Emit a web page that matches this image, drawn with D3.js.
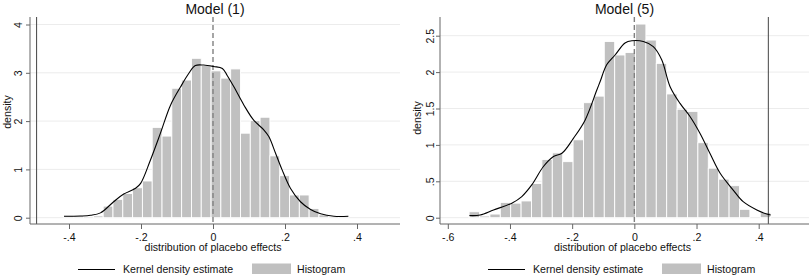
<!DOCTYPE html>
<html>
<head>
<meta charset="utf-8">
<script src="https://cdn.jsdelivr.net/npm/d3@7"></script>
<style>
  body { margin: 0; background: #fff; }
  text { font-family: "Liberation Sans", Arial, sans-serif; fill: #111; }
</style>
</head>
<body>
<div id="chart"></div>
<script>
// ---- Model (1) ----
var binStart1 = -0.414, binWidth1 = 0.02724;
var density1 = [0.037, 0.037, 0, 0.037, 0.24, 0.38, 0.50, 0.62, 0.76, 1.87, 1.69, 2.68, 2.85, 3.30, 3.15,
                3.04, 2.89, 3.08, 1.75, 2.01, 2.08, 1.28, 0.87, 0.47, 0.47, 0.19, 0.06, 0, 0.037];
var kdeX1 = [-0.414, -0.368, -0.340, -0.3125, -0.276, -0.248, -0.215, -0.201, -0.174, -0.146, -0.118, -0.090,
             -0.067, -0.049, -0.026, 0.002, 0.026, 0.039, 0.058, 0.086, 0.113, 0.141, 0.155, 0.174, 0.192,
             0.215, 0.243, 0.271, 0.299, 0.336, 0.376];
var kdeY1 = [0.03, 0.035, 0.05, 0.10, 0.33, 0.49, 0.61, 0.71, 1.19, 1.75, 2.33, 2.71,
             2.99, 3.15, 3.16, 3.13, 3.09, 2.95, 2.71, 2.33, 2.02, 1.82, 1.68, 1.33, 0.99,
             0.61, 0.33, 0.17, 0.08, 0.03, 0.03];
var estimate1 = -0.49;
var xTicks1 = [-0.4, -0.2, 0, 0.2, 0.4];
var yTicks1 = [0, 1, 2, 3, 4];

// ---- Model (5) ----
var binStart5 = -0.5315, binWidth5 = 0.03345;
var density5 = [0.082, 0.023, 0.05, 0.21, 0.20, 0.23, 0.47, 0.80, 0.89, 0.77, 1.07, 1.58, 1.67, 2.42, 2.235,
                2.27, 2.66, 2.44, 2.12, 1.70, 1.49, 1.46, 1.03, 0.68, 0.53, 0.44, 0.115, 0, 0.069];
var kdeX5 = [-0.5305, -0.496, -0.453, -0.394, -0.362, -0.330, -0.293, -0.260, -0.233, -0.196, -0.1585, -0.121,
             -0.110, -0.089, -0.062, -0.030, -0.008, 0.029, 0.061, 0.088, 0.115, 0.147, 0.179, 0.211,
             0.243, 0.276, 0.318, 0.350, 0.394, 0.426, 0.4386];
var kdeY5 = [0.03, 0.037, 0.106, 0.20, 0.29, 0.45, 0.70, 0.84, 0.885, 1.09, 1.34, 1.75,
             1.87, 2.10, 2.235, 2.40, 2.43, 2.42, 2.35, 2.17, 1.80, 1.57, 1.39, 1.16,
             0.885, 0.61, 0.38, 0.22, 0.106, 0.05, 0.037];
var estimate5 = 0.431;
var xTicks5 = [-0.6, -0.4, -0.2, 0, 0.2, 0.4];
var yTicks5 = [0, 0.5, 1, 1.5, 2, 2.5];

var width = 809, height = 278;
var svg = d3.select("#chart").append("svg")
  .attr("width", width)
  .attr("height", height);

// stata style numbers: .2, -.4, 2.5
function fmt(d) {
  if (d === 0) return "0";
  return String(+d.toFixed(2)).replace(/^(-?)0\./, "$1.");
}

function panel(o) {
  var x = d3.scaleLinear().domain(o.xDomain).range(o.xRange);
  var y = d3.scaleLinear().domain(o.yDomain).range(o.yRange);
  var g = svg.append("g");

  // gridlines
  g.selectAll(".grid").data(o.yTicks).enter().append("line")
    .attr("x1", o.left).attr("x2", o.right)
    .attr("y1", d => y(d)).attr("y2", d => y(d))
    .attr("stroke", "#ececec").attr("stroke-width", 1);

  // histogram
  g.selectAll(".bar").data(o.density).enter().append("rect")
    .attr("x", (d, i) => x(o.binStart + i * o.binWidth))
    .attr("width", (d, i) => x(o.binStart + (i + 1) * o.binWidth) - x(o.binStart + i * o.binWidth))
    .attr("y", d => y(d))
    .attr("height", d => y(0) - y(d))
    .attr("fill", "#c0c0c0")
    .attr("stroke", "#fff")
    .attr("stroke-width", 0.9);

  // dashed line at zero
  g.append("line")
    .attr("x1", x(0)).attr("x2", x(0))
    .attr("y1", o.top).attr("y2", o.bottom)
    .attr("stroke", "#808080").attr("stroke-width", 1.4)
    .attr("stroke-dasharray", "5,3");

  // actual estimate
  g.append("line")
    .attr("x1", x(o.estimate)).attr("x2", x(o.estimate))
    .attr("y1", o.top).attr("y2", o.bottom)
    .attr("stroke", "#444").attr("stroke-width", 1);

  // kernel density
  var line = d3.line()
    .x((d, i) => x(o.kdeX[i]))
    .y(d => y(d))
    .curve(d3.curveCatmullRom);
  g.append("path")
    .datum(o.kdeY)
    .attr("d", line)
    .attr("fill", "none")
    .attr("stroke", "#000")
    .attr("stroke-width", 1.1);

  // x axis
  var xa = g.append("g")
    .attr("transform", "translate(0," + o.bottom + ")")
    .call(d3.axisBottom(x).tickValues(o.xTicks).tickFormat(fmt).tickSize(5).tickPadding(4));
  xa.select(".domain").remove();
  xa.selectAll("line").attr("stroke", "#666");
  xa.selectAll("text").style("font-size", "10.6px").attr("fill", "#111");
  g.append("line")
    .attr("x1", o.left).attr("x2", o.right)
    .attr("y1", o.bottom).attr("y2", o.bottom)
    .attr("stroke", "#666");

  // y axis
  var ya = g.append("g")
    .attr("transform", "translate(" + o.left + ",0)")
    .call(d3.axisLeft(y).tickValues(o.yTicks).tickFormat(fmt).tickSize(4));
  ya.select(".domain").remove();
  ya.selectAll("line").attr("stroke", "#666");
  ya.selectAll("text")
    .style("font-size", "10.6px").attr("fill", "#111")
    .attr("x", null).attr("dy", null)
    .attr("text-anchor", "middle")
    .attr("transform", "translate(" + (-o.labelGap) + ",0) rotate(-90)");
  g.append("line")
    .attr("x1", o.left).attr("x2", o.left)
    .attr("y1", o.top).attr("y2", o.bottom)
    .attr("stroke", "#666");

  // titles
  g.append("text")
    .attr("x", (o.left + o.right) / 2).attr("y", 13.5)
    .attr("text-anchor", "middle")
    .style("font-size", "14px")
    .text(o.title);
  g.append("text")
    .attr("x", (o.left + o.right) / 2 - 2).attr("y", 251)
    .attr("text-anchor", "middle")
    .style("font-size", "10.6px")
    .text("distribution of placebo effects");
  g.append("text")
    .attr("transform", "translate(" + o.yTitleX + "," + o.yTitleY + ") rotate(-90)")
    .attr("text-anchor", "middle")
    .style("font-size", "10.6px")
    .text("density");

  // legend
  var lg = g.append("g").attr("transform", "translate(" + o.legendX + ",269.5)");
  lg.append("line").attr("x1", 0).attr("x2", 37).attr("stroke", "#000").attr("stroke-width", 1.2);
  lg.append("text").attr("x", 45).attr("y", 3.5).style("font-size", "10.6px").text("Kernel density estimate");
  lg.append("rect").attr("x", 174).attr("y", -6).attr("width", 39).attr("height", 10.5).attr("fill", "#c0c0c0");
  lg.append("text").attr("x", 219).attr("y", 3.5).style("font-size", "10.6px").text("Histogram");
}

panel({
  title: "Model (1)",
  xDomain: [-0.4, 0.4], xRange: [69, 357],
  yDomain: [0, 4], yRange: [217.7, 24.5],
  left: 30, right: 400, top: 17, bottom: 224,
  xTicks: xTicks1, yTicks: yTicks1, labelGap: 8,
  binStart: binStart1, binWidth: binWidth1, density: density1,
  kdeX: kdeX1, kdeY: kdeY1, estimate: estimate1,
  yTitleX: 11, yTitleY: 112, legendX: 78
});

panel({
  title: "Model (5)",
  xDomain: [-0.6, 0.4], xRange: [447.8, 758.7],
  yDomain: [0, 2.5], yRange: [217.7, 35.7],
  left: 440, right: 809, top: 17, bottom: 224,
  xTicks: xTicks5, yTicks: yTicks5, labelGap: 6.5,
  binStart: binStart5, binWidth: binWidth5, density: density5,
  kdeX: kdeX5, kdeY: kdeY5, estimate: estimate5,
  yTitleX: 421, yTitleY: 118, legendX: 488
});
</script>
</body>
</html>
